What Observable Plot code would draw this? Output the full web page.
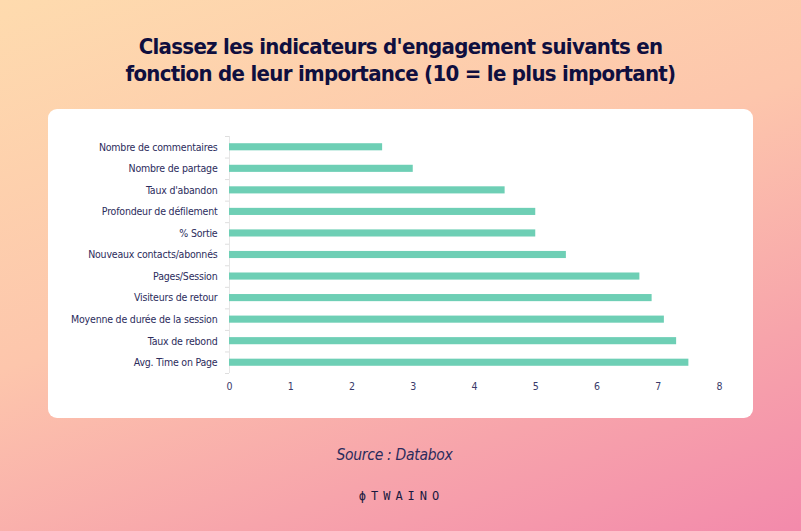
<!DOCTYPE html>
<html>
<head>
<meta charset="utf-8">
<script src="https://cdn.jsdelivr.net/npm/d3@7"></script>
<script src="https://cdn.jsdelivr.net/npm/@observablehq/plot@0.6"></script>
<style>
  html, body { margin: 0; padding: 0; }
  #page {
    position: relative; width: 801px; height: 531px; overflow: hidden;
    background: linear-gradient(160deg, #fedbae 0%, #fdc6ac 45%, #f7a4ab 75%, #f38aab 100%);
    font-family: "DejaVu Sans Condensed", "DejaVu Sans", sans-serif;
  }
  #title {
    position: absolute; left: 0; top: 33px; width: 801px; text-align: center;
    font-weight: bold; font-size: 22px; line-height: 27px; color: #0f0f3f; letter-spacing: -0.7px;
  }
  #card {
    position: absolute; left: 48px; top: 109px; width: 705px; height: 309px;
    background: #fff; border-radius: 9px;
  }
  #card svg { position: absolute; left: 0; top: 0; }
  #source {
    position: absolute; left: 0; top: 446px; width: 789px; text-align: center;
    font-style: italic; font-size: 15.5px; color: #2c2c5c; letter-spacing: -0.3px;
  }
  #logo {
    position: absolute; left: 0; top: 489px; width: 803px; text-align: center;
    font-family: "DejaVu Sans Mono", monospace; font-size: 12px; letter-spacing: 5px; color: #1a1a3f;
  }
</style>
</head>
<body>
<div id="page">
  <div id="title">Classez les indicateurs d'engagement suivants en<br>fonction de leur importance (10 = le plus important)</div>
  <div id="card"></div>
  <div id="source">Source : Databox</div>
  <div id="logo">ϕTWAINO</div>
</div>
<script>
const categories = [
  "Nombre de commentaires",
  "Nombre de partage",
  "Taux d'abandon",
  "Profondeur de défilement",
  "% Sortie",
  "Nouveaux contacts/abonnés",
  "Pages/Session",
  "Visiteurs de retour",
  "Moyenne de durée de la session",
  "Taux de rebond",
  "Avg. Time on Page"
];
const values = [2.5, 3.0, 4.5, 5.0, 5.0, 5.5, 6.7, 6.9, 7.1, 7.3, 7.5];
const xTicks = [0, 1, 2, 3, 4, 5, 6, 7, 8];

const data = categories.map((c, i) => ({category: c, value: values[i]}));
const lastCat = categories[categories.length - 1];

const chart = Plot.plot({
  width: 705,
  height: 309,
  marginLeft: 181,
  marginRight: 34,
  marginTop: 27,
  marginBottom: 45,
  style: {background: "transparent", fontFamily: "'DejaVu Sans Condensed', 'DejaVu Sans', sans-serif", fontSize: "10.5px", color: "#2c2c5c", letterSpacing: "-0.2px"},
  x: {domain: [0, 8], ticks: xTicks, tickSize: 0, tickPadding: 9, label: null, tickFormat: d3.format("d")},
  y: {domain: categories, paddingInner: 0.67, paddingOuter: 0.335, round: false, label: null, tickSize: 0, tickPadding: 12},
  marks: [
    Plot.ruleY(categories, {y: d => d, x1: -0.065, x2: 0, dy: -10.77, stroke: "#dedede", clip: false}),
    Plot.ruleY([lastCat], {y: d => d, x1: -0.065, x2: 0, dy: 10.77, stroke: "#dedede", clip: false}),
    Plot.ruleX([0], {stroke: "#e6e6e6"}),
    Plot.barX(data, {y: "category", x: "value", fill: "#6ecfb5"}),
    Plot.axisX({ticks: xTicks, tickSize: 0, tickPadding: 9, fill: "#3a3a6a", tickFormat: d3.format("d")}),
    Plot.axisY({tickSize: 0, tickPadding: 12, fill: "#2c2c5c"})
  ]
});
document.getElementById("card").appendChild(chart);
</script>
</body>
</html>
